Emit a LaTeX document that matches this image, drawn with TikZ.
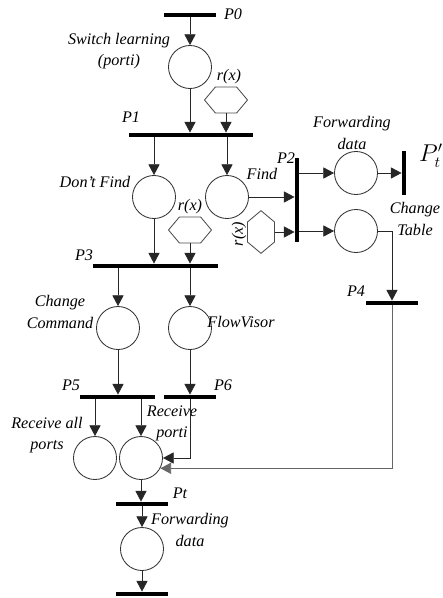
\documentclass[tikz,border=0pt]{standalone}
\usepackage{fontspec}
\setmainfont{Liberation Serif}
\usetikzlibrary{arrows.meta,shapes.symbols}

\begin{document}
\begin{tikzpicture}[x=0.025cm, y=-0.025cm, line width=0.6pt,
    font=\fontsize{11.5}{15}\selectfont\itshape,
    place/.style={circle, draw=black!80, minimum size=1.075cm, inner sep=0pt},
    hbar/.style={fill=black, minimum width=#1, minimum height=0.1cm, inner sep=0pt},
    vbar/.style={fill=black, minimum width=0.1cm, minimum height=#1, inner sep=0pt},
    hexa/.style={signal, signal to=east and west, signal pointer angle=100,
        draw=black!70, minimum width=1.075cm, minimum height=0.65cm, inner sep=0pt},
    vhexa/.style={hexa, signal to=north and south, minimum width=0.675cm, minimum height=0.5cm},
    lbl/.style={align=center, inner sep=0pt},
    arr/.style={draw=black!85, -{Triangle[length=2.7mm, width=2.8mm]}}
]
\useasboundingbox (0,0) rectangle (442,598);

% --- transitions ---
\node[hbar=1.275cm] (p0) at (190,15) {};
\node[hbar=3.1cm] (p1) at (191,135) {};
\node[vbar=2.1cm] (p2) at (297,200) {};
\node[vbar=1.075cm] (pt2) at (404,173) {};
\node[hbar=3.125cm] (p3) at (155.5,266) {};
\node[hbar=1.275cm] (p4) at (392,303) {};
\node[hbar=1.875cm] (p5) at (117.5,397) {};
\node[hbar=1.3cm] (p6) at (190,397) {};
\node[hbar=1.275cm] (pt) at (142,504) {};
\node[hbar=1.275cm] (pend) at (142,594) {};

% --- places ---
\node[place] (sl) at (190,67) {};
\node[place] (df) at (154,197) {};
\node[place] (fi) at (227,197) {};
\node[place] (fd) at (356,173) {};
\node[place] (ct) at (356,231) {};
\node[place] (cc) at (118,328) {};
\node[place] (fv) at (190,328) {};
\node[place] (ra) at (95,458) {};
\node[place] (rp) at (141,458) {};
\node[place] (fw) at (142,549) {};

% --- conditions r(x) ---
\node[hexa] (h1) at (226,100) {};
\node[hexa] (h2) at (190,230) {};
\node[vhexa] (h3) at (261,232) {};

% --- labels ---
\node[lbl] (lp0) at (233,14) {P0};
\node[lbl] (lsl) at (119,51) {Switch learning\\(porti)};
\node[lbl] (lh1) at (229,77) {r(x)};
\node[lbl] (lp1) at (131,117) {P1};
\node[lbl] (ldf) at (95,182) {Don't Find};
\node[lbl] (lfi) at (262,174) {Find};
\node[lbl] (lp2) at (286,158) {P2};
\node[lbl] (lfd) at (352,133) {Forwarding\\data};
\node[lbl, font=\fontsize{16}{18}\selectfont] (lpt2) at (431,156) {$P_t'$};
\node[lbl] (lct) at (415,219) {Change\\Table};
\node[lbl] (lp4) at (356,291) {P4};
\node[lbl] (lp3) at (84,255) {P3};
\node[lbl] (lh2) at (190,207) {r(x)};
\node[lbl, rotate=90] (lh3) at (239,234) {r(x)};
\node[lbl] (lcc) at (60,312) {Change\\Command};
\node[lbl] (lfv) at (241,322) {FlowVisor};
\node[lbl] (lp5) at (71,385) {P5};
\node[lbl] (lp6) at (223,385) {P6};
\node[lbl] (lra) at (47,435) {Receive all\\ports};
\node[lbl] (lrp) at (172,423) {Receive\\porti};
\node[lbl] (lpt) at (180,493) {Pt};
\node[lbl] (lfw) at (190,530) {Forwarding\\data};

% --- arcs ---
\draw[arr] (p0.south) -- (sl.north);
\draw[arr] (sl.south) -- (sl.south |- p1.north);
\draw[arr] (h1.south) -- (h1.south |- p1.north);
\draw[arr] (df.north |- p1.south) -- (df.north);
\draw[arr] (fi.north |- p1.south) -- (fi.north);
\draw[arr] (fi.east) -- (fi.east -| p2.west);
\draw[arr] (h3.east) -- (h3.east -| p2.west);
\draw[arr] (p2.east |- fd.west) -- (fd.west);
\draw[arr] (p2.east |- ct.west) -- (ct.west);
\draw[arr] (fd.east) -- (fd.east -| pt2.west);
\draw[arr] (ct.east) -| (p4.north);
\draw[arr, draw=black!60] (p4.south) |- (rp.-28);
\draw[arr] (df.south) -- (df.south |- p3.north);
\draw[arr] (h2.south) -- (h2.south |- p3.north);
\draw[arr] (cc.north |- p3.south) -- (cc.north);
\draw[arr] (fv.north |- p3.south) -- (fv.north);
\draw[arr] (cc.south) -- (cc.south |- p5.north);
\draw[arr] (fv.south) -- (fv.south |- p6.north);
\draw[arr] (ra.north |- p5.south) -- (ra.north);
\draw[arr] (rp.north |- p5.south) -- (rp.north);
\draw[arr] (p6.south) |- (rp.east);
\draw[arr] (rp.south) -- (rp.south |- pt.north);
\draw[arr] (pt.south) -- (fw.north);
\draw[arr] (fw.south) -- (fw.south |- pend.north);

\end{tikzpicture}
\end{document}
